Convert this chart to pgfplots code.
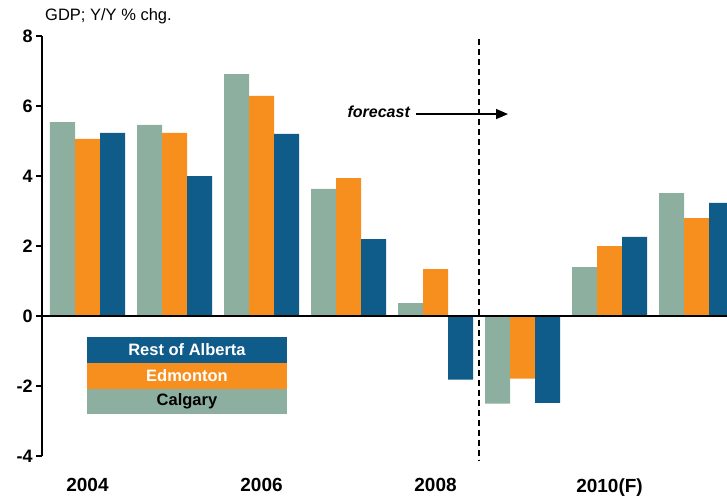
\documentclass[border=0pt]{standalone}
\usepackage{fontspec}
\setmainfont{Liberation Sans}
\usepackage{pgfplots}
\pgfplotsset{compat=1.18}
\usetikzlibrary{arrows.meta}
\definecolor{calg}{HTML}{8DAFA0}
\definecolor{edm}{HTML}{F78F1E}
\definecolor{rest}{HTML}{0F5B8A}
\begin{document}
\begin{tikzpicture}
\begin{axis}[
 scale only axis, width=685pt, height=420pt,
 xmin=2003.477, xmax=2011.35, ymin=-4, ymax=8,
 axis y line*=left, axis x line*=bottom,
 x axis line style={draw=none},
 y axis line style={line width=1.6pt},
 ytick={-4,-2,0,2,4,6,8}, yticklabels={-4,-2,0,2,4,6,8},
 ytick style={line width=1.6pt, black},
 tick align=outside, major tick length=6pt,
 xtick={2004,2006,2008,2010}, xticklabels={2004,2006,2008,2010(F)},
 xtick style={draw=none},
 yticklabel style={font=\fontsize{18}{21}\selectfont\bfseries},
 xticklabel style={font=\fontsize{19}{22}\selectfont\bfseries, yshift=-13pt},
 ybar, bar width=0.2874,
 clip mode=individual,
]
\addplot[fill=calg, draw=none, bar shift=-0.2874] coordinates {
 (2004,5.54) (2005,5.46) (2006,6.91) (2007,3.63) (2008,0.37) (2009,-2.50) (2010,1.40) (2011,3.51)};
\addplot[fill=edm, draw=none, bar shift=0] coordinates {
 (2004,5.06) (2005,5.23) (2006,6.29) (2007,3.94) (2008,1.34) (2009,-1.79) (2010,2.00) (2011,2.80)};
\addplot[fill=rest, draw=none, bar shift=0.2874] coordinates {
 (2004,5.23) (2005,4.00) (2006,5.20) (2007,2.20) (2008,-1.82) (2009,-2.48) (2010,2.26) (2011,3.23)};
\draw[line width=2pt] (axis cs:2003.477,0) -- (axis cs:2011.35,0);
\draw[line width=1.5pt, dash pattern=on 6pt off 4pt] (axis cs:2008.5,7.9) -- (axis cs:2008.5,-4.11);
\node[anchor=base east, inner sep=0pt, font=\fontsize{16}{19}\selectfont\bfseries\itshape] at (axis cs:2007.707,5.66) {forecast};
\draw[line width=1.5pt, -{Triangle[length=12pt,width=10pt]}] (axis cs:2007.776,5.77) -- (axis cs:2008.833,5.77);
\fill[rest] (axis cs:2003.994,-0.6) rectangle (axis cs:2006.293,-1.343);
\fill[edm] (axis cs:2003.994,-1.343) rectangle (axis cs:2006.293,-2.086);
\fill[calg] (axis cs:2003.994,-2.086) rectangle (axis cs:2006.293,-2.8);
\node[white, font=\fontsize{16.5}{19}\selectfont\bfseries] at (axis cs:2005.1435,-0.9715) {Rest of Alberta};
\node[white, font=\fontsize{16.5}{19}\selectfont\bfseries] at (axis cs:2005.1435,-1.7145) {Edmonton};
\node[black, font=\fontsize{16.5}{19}\selectfont\bfseries] at (axis cs:2005.1435,-2.443) {Calgary};
\end{axis}
\node[anchor=base west, inner sep=0pt, font=\fontsize{16.5}{19}\selectfont] at ([xshift=3pt,yshift=15.3pt]current axis.north west) {GDP; Y/Y \% chg.};
\pgfresetboundingbox
\path ([xshift=-42pt,yshift=-41pt]current axis.south west) rectangle ([yshift=36pt]current axis.north east);
\end{tikzpicture}
\end{document}
